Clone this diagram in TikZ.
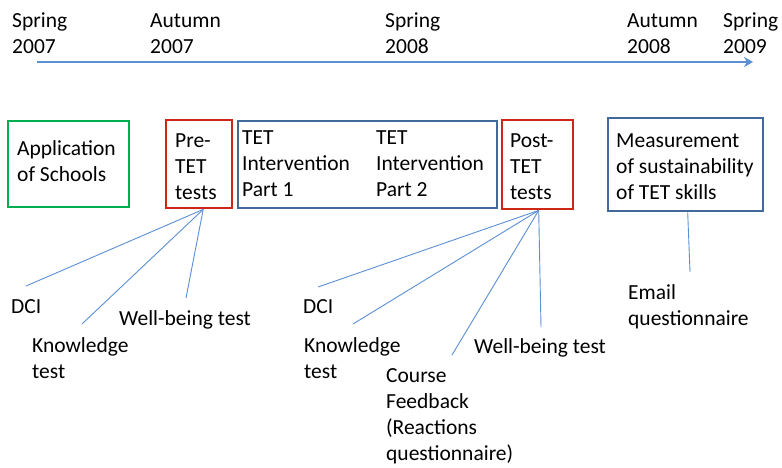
\documentclass[tikz,border=0pt]{standalone}
\usepackage{fontspec}
\setmainfont{Carlito}
\usetikzlibrary{arrows.meta}
\definecolor{gbox}{RGB}{0,176,80}
\definecolor{rbox}{RGB}{205,40,22}
\definecolor{bbox}{RGB}{65,105,155}
\definecolor{conn}{RGB}{91,143,212}
\tikzset{
  txt/.style={anchor=base west, inner sep=0pt, align=left, font=\fontsize{21.5}{26}\selectfont},
  boxbase/.style={draw, line width=2.4pt, anchor=north west, inner sep=0pt},
  greenbox/.style={boxbase, draw=gbox},
  redbox/.style={boxbase, draw=rbox},
  bluebox/.style={boxbase, draw=bbox},
  conline/.style={draw=conn, line width=0.9pt},
  timeline/.style={draw=conn, line width=1.4pt, -{Stealth[length=9pt,width=10pt,inset=3pt]}}
}
\begin{document}
\begin{tikzpicture}[x=1pt,y=-1pt]
\useasboundingbox (0,0) rectangle (782,467);
% timeline labels (anchor = baseline of last line)
\node[txt] (t1) at (12,53) {Spring\\2007};
\node[txt] (t2) at (150,53) {Autumn\\2007};
\node[txt] (t3) at (385,53) {Spring\\2008};
\node[txt] (t4) at (627,53) {Autumn\\2008};
\node[txt] (t5) at (723,53) {Spring\\2009};
\coordinate (tl0) at (37,62);
\coordinate (tl1) at (753,62);
\draw[timeline] (tl0) -- (tl1);
% boxes
\node[greenbox, minimum width=121pt, minimum height=86pt] (app) at (7,120) {};
\node[redbox, minimum width=66pt, minimum height=88pt] (pre) at (165,119) {};
\node[bluebox, minimum width=259pt, minimum height=87pt] (int) at (237,120) {};
\node[redbox, minimum width=71pt, minimum height=89pt] (post) at (501,119) {};
\node[bluebox, minimum width=155pt, minimum height=93pt] (meas) at (607,117) {};
% box texts
\node[txt] (appt) at (17,181) {Application\\of Schools};
\node[txt] (pret) at (175,199) {Pre-\\TET\\tests};
\node[txt] (int1) at (242,196) {TET\\Intervention\\Part 1};
\node[txt] (int2) at (376,196) {TET\\Intervention\\Part 2};
\node[txt] (postt) at (510,199) {Post-\\TET\\tests};
\node[txt] (meast) at (616,199) {Measurement\\of sustainability\\of TET skills};
% bottom labels
\node[txt] (dci1) at (11,313) {DCI};
\node[txt] (kn1) at (32,378) {Knowledge\\test};
\node[txt] (wb1) at (119,325) {Well-being test};
\node[txt] (dci2) at (303,313) {DCI};
\node[txt] (kn2) at (304,378) {Knowledge\\test};
\node[txt] (cf) at (386,460) {Course\\Feedback\\(Reactions\\questionnaire)};
\node[txt] (wb2) at (474,353) {Well-being test};
\node[txt] (em) at (628,325) {Email\\questionnaire};
% connector ends
\coordinate (e1) at (26,286);
\coordinate (e2) at (82,324);
\coordinate (e3) at (186,298);
\coordinate (f1) at (318,287);
\coordinate (f2) at (353,324);
\coordinate (f3) at (452,355);
\coordinate (f4) at (541,327);
\coordinate (g1) at (690,272);
% connectors
\draw[conline] ([xshift=4pt]pre.south) -- (e1);
\draw[conline] ([xshift=4pt]pre.south) -- (e2);
\draw[conline] ([xshift=4pt]pre.south) -- (e3);
\draw[conline] ([xshift=1pt]post.south) -- (f1);
\draw[conline] ([xshift=1pt]post.south) -- (f2);
\draw[conline] ([xshift=1pt]post.south) -- (f3);
\draw[conline] ([xshift=1pt]post.south) -- (f4);
\draw[conline] ([xshift=2pt]meas.south) -- (g1);
\end{tikzpicture}
\end{document}
